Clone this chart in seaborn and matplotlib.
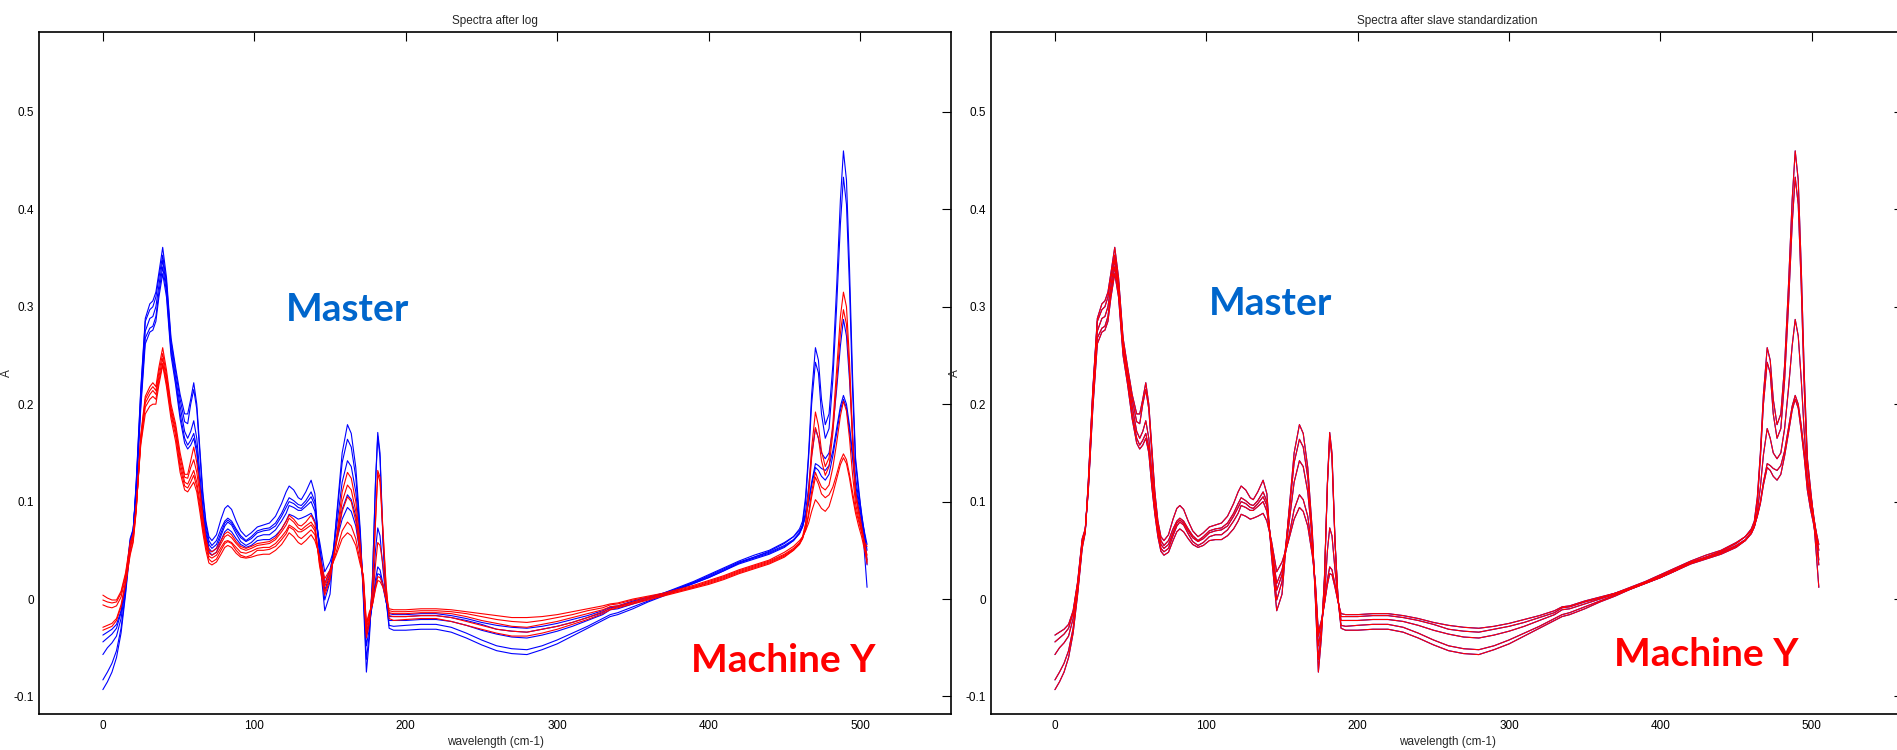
import matplotlib
matplotlib.use("Agg")
import matplotlib.pyplot as plt
import seaborn as sns

# ---------------- data ----------------
WAVELENGTH = [0, 3, 6, 9, 12, 15, 18, 20, 22, 25,
              28, 31, 33, 35, 37, 39.5, 42, 45, 48, 51,
              54, 56, 58, 60, 62, 64, 66, 68, 70, 72,
              75, 78, 80.5, 82.5, 85, 88, 91, 94.5, 98, 102,
              106, 110, 114, 118, 121, 123, 126, 129, 131, 134,
              137.5, 140, 143, 146.5, 150, 154, 158, 161.5, 164, 167,
              170, 172, 174, 176, 178, 180, 181.5, 183, 185, 187,
              189, 192, 200, 210, 220, 230, 240, 250, 260, 270,
              280, 290, 300, 310, 320, 330, 335, 340, 350, 360,
              370, 380, 390, 400, 410, 420, 430, 440, 450, 456,
              460, 462, 464, 466, 468, 470.5, 472.5, 474.5, 477, 479.5,
              482, 484.5, 487, 489, 491, 493, 495, 497, 499, 501,
              503, 504.6]

# master instrument spectra (blue)
MASTER_A = [-0.093, -0.085, -0.075, -0.060, -0.035, 0.005, 0.052, 0.068, 0.12, 0.215,
            0.288, 0.303, 0.306, 0.315, 0.335, 0.361, 0.33, 0.268, 0.238, 0.21,
            0.19, 0.19, 0.205, 0.222, 0.2, 0.155, 0.11, 0.08, 0.064, 0.06,
            0.066, 0.082, 0.093, 0.096, 0.092, 0.08, 0.07, 0.064, 0.068, 0.074,
            0.076, 0.078, 0.085, 0.098, 0.11, 0.116, 0.112, 0.104, 0.102, 0.11,
            0.122, 0.108, 0.045, -0.012, 0.005, 0.08, 0.15, 0.179, 0.17, 0.135,
            0.07, 0.0, -0.075, -0.04, 0.02, 0.12, 0.171, 0.15, 0.06, 0.0,
            -0.03, -0.032, -0.032, -0.031, -0.031, -0.034, -0.04, -0.047, -0.053, -0.056,
            -0.057, -0.052, -0.046, -0.038, -0.03, -0.022, -0.018, -0.016, -0.01, -0.003,
            0.003, 0.01, 0.016, 0.022, 0.029, 0.037, 0.043, 0.049, 0.057, 0.064,
            0.072, 0.08, 0.105, 0.15, 0.21, 0.258, 0.245, 0.205, 0.179, 0.19,
            0.24, 0.32, 0.41, 0.46, 0.43, 0.34, 0.23, 0.145, 0.115, 0.085,
            0.045, 0.012]
MASTER_B = [-0.083, -0.075, -0.066, -0.053, -0.030, 0.008, 0.055, 0.069, 0.118, 0.212,
            0.285, 0.297, 0.300, 0.310, 0.330, 0.353, 0.325, 0.264, 0.234, 0.205,
            0.182, 0.18, 0.2, 0.215, 0.195, 0.15, 0.105, 0.077, 0.06, 0.055,
            0.06, 0.072, 0.08, 0.083, 0.08, 0.072, 0.065, 0.06, 0.064, 0.07,
            0.072, 0.073, 0.078, 0.088, 0.098, 0.104, 0.101, 0.097, 0.096, 0.101,
            0.11, 0.1, 0.05, -0.001, 0.018, 0.078, 0.14, 0.164, 0.156, 0.125,
            0.065, 0.005, -0.062, -0.035, 0.02, 0.118, 0.167, 0.145, 0.058, 0.0,
            -0.027, -0.028, -0.027, -0.026, -0.026, -0.029, -0.035, -0.042, -0.048, -0.051,
            -0.052, -0.048, -0.042, -0.035, -0.028, -0.02, -0.016, -0.014, -0.008, -0.002,
            0.004, 0.01, 0.016, 0.022, 0.029, 0.036, 0.041, 0.046, 0.053, 0.06,
            0.068, 0.077, 0.1, 0.145, 0.2, 0.243, 0.232, 0.19, 0.165, 0.175,
            0.225, 0.3, 0.385, 0.433, 0.405, 0.32, 0.215, 0.14, 0.11, 0.088,
            0.065, 0.04]
MASTER_C = [-0.057, -0.050, -0.045, -0.038, -0.020, 0.012, 0.057, 0.07, 0.115, 0.205,
            0.275, 0.288, 0.29, 0.3, 0.322, 0.348, 0.32, 0.26, 0.228, 0.198,
            0.172, 0.165, 0.172, 0.183, 0.165, 0.13, 0.095, 0.072, 0.056, 0.052,
            0.056, 0.068, 0.078, 0.081, 0.078, 0.07, 0.063, 0.059, 0.062, 0.068,
            0.07, 0.071, 0.075, 0.085, 0.094, 0.1, 0.098, 0.094, 0.093, 0.098,
            0.105, 0.096, 0.053, 0.009, 0.025, 0.07, 0.12, 0.142, 0.136, 0.11,
            0.06, 0.01, -0.048, -0.03, 0.0, 0.05, 0.073, 0.065, 0.03, 0.0,
            -0.022, -0.022, -0.022, -0.021, -0.021, -0.023, -0.027, -0.032, -0.036, -0.039,
            -0.04, -0.037, -0.033, -0.028, -0.022, -0.016, -0.011, -0.01, -0.005, 0.0,
            0.005, 0.011, 0.017, 0.023, 0.03, 0.037, 0.042, 0.047, 0.054, 0.06,
            0.067, 0.074, 0.09, 0.115, 0.148, 0.175, 0.165, 0.15, 0.144, 0.15,
            0.175, 0.215, 0.26, 0.287, 0.27, 0.225, 0.17, 0.125, 0.103, 0.085,
            0.068, 0.056]
MASTER_D = [-0.044, -0.040, -0.036, -0.030, -0.014, 0.016, 0.06, 0.071, 0.112, 0.2,
            0.268, 0.278, 0.28, 0.29, 0.315, 0.341, 0.315, 0.255, 0.224, 0.19,
            0.165, 0.158, 0.163, 0.17, 0.155, 0.12, 0.09, 0.068, 0.052, 0.0485,
            0.052, 0.065, 0.075, 0.079, 0.076, 0.067, 0.059, 0.055, 0.058, 0.064,
            0.066, 0.066, 0.071, 0.08, 0.088, 0.096, 0.094, 0.091, 0.091, 0.095,
            0.1, 0.09, 0.056, 0.016, 0.03, 0.06, 0.092, 0.107, 0.102, 0.085,
            0.05, 0.015, -0.038, -0.025, -0.005, 0.02, 0.033, 0.03, 0.015, -0.002,
            -0.018, -0.018, -0.018, -0.017, -0.017, -0.019, -0.022, -0.026, -0.031, -0.033,
            -0.034, -0.031, -0.028, -0.024, -0.019, -0.014, -0.009, -0.008, -0.003, 0.001,
            0.006, 0.011, 0.017, 0.024, 0.031, 0.038, 0.043, 0.048, 0.055, 0.061,
            0.068, 0.074, 0.086, 0.1, 0.12, 0.139, 0.137, 0.134, 0.132, 0.137,
            0.152, 0.175, 0.198, 0.209, 0.2, 0.178, 0.15, 0.118, 0.098, 0.082,
            0.066, 0.05]
MASTER_E = [-0.037, -0.034, -0.031, -0.026, -0.012, 0.018, 0.062, 0.072, 0.11, 0.195,
            0.262, 0.274, 0.276, 0.285, 0.31, 0.334, 0.31, 0.25, 0.22, 0.185,
            0.16, 0.154, 0.158, 0.165, 0.15, 0.115, 0.087, 0.064, 0.049, 0.045,
            0.048, 0.06, 0.069, 0.072, 0.069, 0.062, 0.056, 0.053, 0.055, 0.06,
            0.061, 0.061, 0.065, 0.072, 0.08, 0.087, 0.085, 0.082, 0.083, 0.085,
            0.088, 0.08, 0.06, 0.028, 0.038, 0.058, 0.082, 0.094, 0.09, 0.075,
            0.045, 0.018, -0.034, -0.022, -0.005, 0.015, 0.026, 0.025, 0.012, -0.003,
            -0.015, -0.016, -0.016, -0.015, -0.015, -0.017, -0.02, -0.024, -0.027, -0.029,
            -0.03, -0.028, -0.025, -0.021, -0.017, -0.012, -0.008, -0.007, -0.002, 0.002,
            0.006, 0.012, 0.018, 0.025, 0.032, 0.039, 0.045, 0.05, 0.058, 0.064,
            0.07, 0.075, 0.085, 0.098, 0.117, 0.135, 0.132, 0.126, 0.122, 0.128,
            0.147, 0.17, 0.194, 0.205, 0.196, 0.172, 0.145, 0.112, 0.093, 0.078,
            0.06, 0.035]

# slave (Machine Y) spectra after log (red, left panel)
SLAVE_A = [-0.032, -0.030, -0.028, -0.022, -0.008, 0.015, 0.045, 0.058, 0.09, 0.168,
           0.208, 0.218, 0.222, 0.218, 0.238, 0.258, 0.235, 0.2, 0.18, 0.15,
           0.128, 0.128, 0.142, 0.156, 0.14, 0.115, 0.085, 0.062, 0.05, 0.0485,
           0.052, 0.06, 0.067, 0.069, 0.066, 0.059, 0.054, 0.052, 0.054, 0.057,
           0.058, 0.059, 0.063, 0.072, 0.08, 0.086, 0.082, 0.076, 0.075, 0.079,
           0.086, 0.078, 0.035, 0.004, 0.02, 0.06, 0.11, 0.13, 0.124, 0.1,
           0.055, 0.01, -0.04, -0.025, 0.01, 0.08, 0.132, 0.125, 0.07, 0.015,
           -0.02, -0.022, -0.021, -0.02, -0.02, -0.023, -0.027, -0.031, -0.035, -0.038,
           -0.038, -0.035, -0.031, -0.026, -0.021, -0.015, -0.011, -0.009, -0.005, -0.001,
           0.003, 0.007, 0.011, 0.015, 0.02, 0.026, 0.031, 0.036, 0.043, 0.05,
           0.057, 0.064, 0.078, 0.11, 0.155, 0.192, 0.178, 0.152, 0.136, 0.145,
           0.18, 0.235, 0.29, 0.315, 0.3, 0.245, 0.17, 0.11, 0.092, 0.075,
           0.055, 0.036]
SLAVE_B = [-0.029, -0.027, -0.025, -0.020, -0.006, 0.017, 0.047, 0.06, 0.091, 0.166,
           0.205, 0.214, 0.218, 0.214, 0.233, 0.252, 0.23, 0.196, 0.176, 0.145,
           0.125, 0.124, 0.135, 0.143, 0.13, 0.108, 0.08, 0.06, 0.047, 0.045,
           0.048, 0.057, 0.064, 0.066, 0.063, 0.057, 0.052, 0.05, 0.052, 0.055,
           0.056, 0.057, 0.061, 0.069, 0.076, 0.083, 0.079, 0.073, 0.071, 0.075,
           0.079, 0.073, 0.037, 0.007, 0.022, 0.058, 0.1, 0.117, 0.112, 0.09,
           0.05, 0.015, -0.035, -0.022, 0.01, 0.078, 0.129, 0.12, 0.066, 0.012,
           -0.017, -0.018, -0.018, -0.017, -0.017, -0.019, -0.023, -0.027, -0.031, -0.033,
           -0.034, -0.031, -0.028, -0.024, -0.019, -0.013, -0.01, -0.008, -0.004, 0.0,
           0.004, 0.008, 0.012, 0.016, 0.021, 0.027, 0.032, 0.037, 0.044, 0.05,
           0.056, 0.062, 0.075, 0.105, 0.145, 0.176, 0.165, 0.142, 0.127, 0.136,
           0.17, 0.222, 0.273, 0.297, 0.282, 0.232, 0.16, 0.105, 0.088, 0.072,
           0.056, 0.04]
SLAVE_C = [-0.006, -0.008, -0.009, -0.007, 0.002, 0.022, 0.052, 0.063, 0.093, 0.163,
           0.201, 0.21, 0.214, 0.21, 0.228, 0.247, 0.226, 0.193, 0.172, 0.14,
           0.12, 0.118, 0.125, 0.132, 0.12, 0.1, 0.075, 0.057, 0.044, 0.042,
           0.045, 0.053, 0.059, 0.06, 0.058, 0.053, 0.048, 0.047, 0.049, 0.052,
           0.053, 0.053, 0.057, 0.064, 0.07, 0.076, 0.073, 0.069, 0.069, 0.072,
           0.076, 0.07, 0.04, 0.013, 0.026, 0.055, 0.09, 0.105, 0.1, 0.08,
           0.045, 0.02, -0.03, -0.018, -0.003, 0.035, 0.058, 0.055, 0.035, 0.005,
           -0.014, -0.015, -0.015, -0.014, -0.014, -0.015, -0.018, -0.022, -0.025, -0.028,
           -0.029, -0.026, -0.023, -0.019, -0.015, -0.011, -0.008, -0.007, -0.003, 0.001,
           0.004, 0.008, 0.012, 0.017, 0.022, 0.028, 0.033, 0.038, 0.045, 0.051,
           0.057, 0.062, 0.072, 0.088, 0.11, 0.13, 0.122, 0.115, 0.112, 0.117,
           0.135, 0.16, 0.188, 0.203, 0.193, 0.165, 0.128, 0.098, 0.083, 0.07,
           0.058, 0.054]
SLAVE_D = [-0.001, -0.003, -0.004, -0.003, 0.006, 0.025, 0.055, 0.065, 0.094, 0.16,
           0.197, 0.205, 0.208, 0.205, 0.224, 0.242, 0.222, 0.19, 0.168, 0.135,
           0.116, 0.114, 0.12, 0.127, 0.115, 0.095, 0.072, 0.054, 0.041, 0.038,
           0.041, 0.05, 0.057, 0.059, 0.057, 0.05, 0.045, 0.043, 0.045, 0.05,
           0.05, 0.051, 0.054, 0.061, 0.067, 0.074, 0.071, 0.064, 0.062, 0.066,
           0.071, 0.066, 0.042, 0.016, 0.028, 0.048, 0.07, 0.079, 0.075, 0.062,
           0.038, 0.022, -0.027, -0.015, -0.005, 0.012, 0.023, 0.022, 0.015, 0.0,
           -0.012, -0.013, -0.013, -0.012, -0.012, -0.013, -0.015, -0.018, -0.021, -0.023,
           -0.024, -0.022, -0.019, -0.016, -0.012, -0.009, -0.006, -0.005, -0.001, 0.002,
           0.005, 0.009, 0.013, 0.018, 0.023, 0.029, 0.034, 0.039, 0.046, 0.052,
           0.058, 0.063, 0.071, 0.085, 0.105, 0.125, 0.118, 0.108, 0.104, 0.107,
           0.115, 0.128, 0.142, 0.149, 0.143, 0.128, 0.11, 0.092, 0.08, 0.068,
           0.056, 0.045]
SLAVE_E = [0.004, 0.001, -0.001, -0.001, 0.008, 0.027, 0.058, 0.067, 0.095, 0.158,
           0.19, 0.198, 0.2, 0.2, 0.22, 0.24, 0.218, 0.185, 0.162, 0.13,
           0.112, 0.11, 0.115, 0.12, 0.11, 0.09, 0.068, 0.05, 0.037, 0.035,
           0.038, 0.046, 0.053, 0.055, 0.053, 0.047, 0.043, 0.042, 0.043, 0.045,
           0.046, 0.046, 0.05, 0.056, 0.063, 0.068, 0.064, 0.058, 0.056, 0.06,
           0.066, 0.06, 0.045, 0.021, 0.03, 0.045, 0.062, 0.068, 0.065, 0.055,
           0.035, 0.025, -0.025, -0.013, -0.006, 0.01, 0.019, 0.018, 0.012, 0.0,
           -0.01, -0.011, -0.011, -0.01, -0.01, -0.011, -0.013, -0.015, -0.017, -0.019,
           -0.019, -0.018, -0.016, -0.013, -0.01, -0.007, -0.005, -0.004, 0.0, 0.003,
           0.006, 0.01, 0.014, 0.019, 0.024, 0.03, 0.035, 0.04, 0.048, 0.054,
           0.06, 0.064, 0.07, 0.078, 0.09, 0.102, 0.098, 0.093, 0.09, 0.095,
           0.108, 0.123, 0.138, 0.145, 0.139, 0.124, 0.105, 0.088, 0.075, 0.064,
           0.05, 0.038]

# slave spectra after standardization: they coincide with the master spectra
# within the resolution of the picture
STD_A, STD_B, STD_C, STD_D, STD_E = MASTER_A, MASTER_B, MASTER_C, MASTER_D, MASTER_E

MASTERS = [MASTER_A, MASTER_B, MASTER_C, MASTER_D, MASTER_E]
SLAVES = [SLAVE_A, SLAVE_B, SLAVE_C, SLAVE_D, SLAVE_E]
STANDARDIZED = [STD_A, STD_B, STD_C, STD_D, STD_E]

for s in MASTERS + SLAVES:
    assert len(s) == len(WAVELENGTH), len(s)

XTICKS = [0, 100, 200, 300, 400, 500]
YTICKS = [-0.1, 0, 0.1, 0.2, 0.3, 0.4, 0.5]
YTICKLABELS = ['-0.1', '0', '0.1', '0.2', '0.3', '0.4', '0.5']

# ---------------- drawing ----------------
sns.set_style("white")
plt.rcParams['font.family'] = ['Liberation Sans', 'DejaVu Sans']
plt.rcParams['axes.unicode_minus'] = False

BLUE = '#0000FF'
RED = '#FF0000'
LW = 0.8

fig = plt.figure(figsize=(18.97, 7.5), dpi=100)
ax1 = fig.add_axes([0.0207, 0.048, 0.4806, 0.9093])
ax2 = fig.add_axes([0.5226, 0.048, 0.4804, 0.9093])


def draw(ax, blue_sets, red_sets):
    for s in blue_sets:
        sns.lineplot(x=WAVELENGTH, y=s, color=BLUE, lw=LW, ax=ax,
                     sort=False, estimator=None, legend=False)
    for s in red_sets:
        sns.lineplot(x=WAVELENGTH, y=s, color=RED, lw=LW, ax=ax,
                     sort=False, estimator=None, legend=False)


def style(ax, title):
    ax.set_xlim(-42, 560)
    ax.set_ylim(-0.118, 0.582)
    ax.set_xticks(XTICKS)
    ax.set_xticklabels([str(t) for t in XTICKS])
    ax.set_yticks(YTICKS)
    ax.set_yticklabels(YTICKLABELS)
    ax.tick_params(direction='in', top=True, right=True, length=6.5, width=0.8,
                   labelsize=8.5, pad=4, colors='black')
    for sp in ax.spines.values():
        sp.set_visible(True)
        sp.set_linewidth(1.2)
        sp.set_color('black')
    ax.set_title(title, fontsize=8.5, pad=6)
    ax.set_xlabel('wavelength (cm-1)', fontsize=8.5, labelpad=3)
    ax.set_ylabel('A', fontsize=8.5)


draw(ax1, MASTERS, SLAVES)
style(ax1, 'Spectra after log')
ax1.yaxis.set_label_coords(-0.029, 0.5)
ax1.text(161.7, 0.2855, 'Master', color='#0066CC', fontsize=28,
         fontweight='bold', family='Lato', ha='center', va='baseline')
ax1.text(449.5, -0.0749, 'Machine Y', color=RED, fontsize=28,
         fontweight='bold', family='Lato', ha='center', va='baseline')

draw(ax2, MASTERS, STANDARDIZED)
style(ax2, 'Spectra after slave standardization')
ax2.yaxis.set_label_coords(-0.033, 0.5)
ax2.text(142.6, 0.2918, 'Master', color='#0066CC', fontsize=28,
         fontweight='bold', family='Lato', ha='center', va='baseline')
ax2.text(430, -0.0689, 'Machine Y', color=RED, fontsize=28,
         fontweight='bold', family='Lato', ha='center', va='baseline')

fig.savefig('out.png', dpi=100)
